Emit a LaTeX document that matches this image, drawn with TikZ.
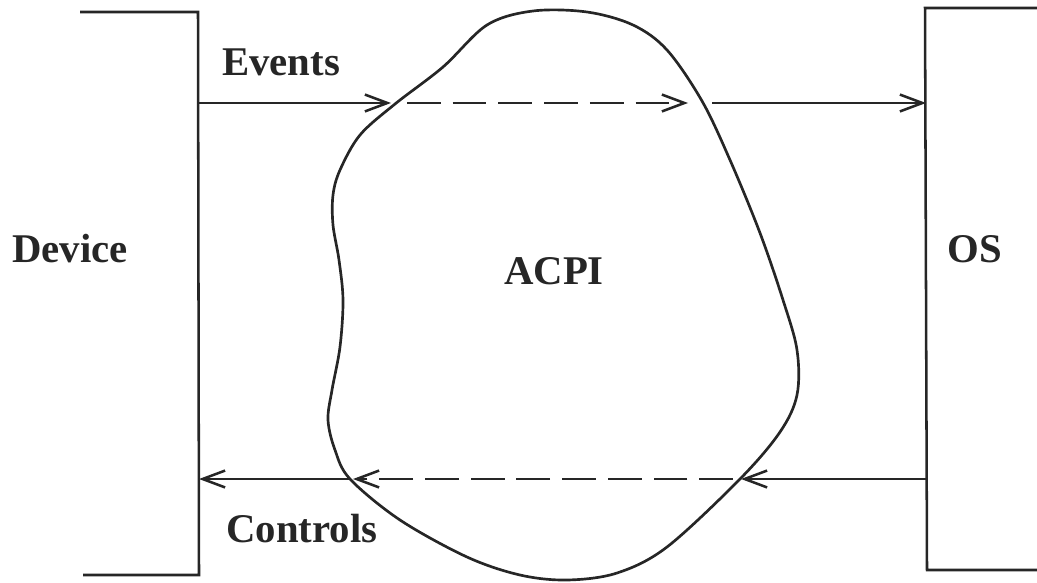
\documentclass[tikz,border=0pt]{standalone}
\usepackage{fontspec}
\setmainfont{Liberation Serif}
\usetikzlibrary{arrows.meta}
\begin{document}
\begin{tikzpicture}[x=0.025cm, y=-0.025cm,
  lbl/.style={font=\fontsize{29}{32}\selectfont\bfseries, inner sep=0pt, text=black!85},
  wire/.style={line width=1.8pt, draw=black!85},
  flow/.style={wire, -{Straight Barb[length=16pt, width=12pt, line width=1.8pt]}},
  hidden/.style={flow, dash pattern=on 24pt off 8.5pt},
  blob/.style={line width=1.9pt, draw=black!85}
]
\useasboundingbox (0,0) rectangle (1037,583);

% the two end points: device bracket and OS box
\draw[wire] (80,12) -- (198,12) -- (199,575) -- (83,575);
\draw[wire] (1037,8) -- (925,8) -- (927,570) -- (1037,570);

% the ACPI region
\draw[blob] plot[smooth cycle, tension=0.55] coordinates {
  (533,11) (587,12) (633,25) (667,50) (702,101) (730,160) (760,233)
  (783,300) (797,350) (797,395) (780,432) (740,479) (667,547) (617,573)
  (567,580) (520,575) (467,557) (400,520) (350,479) (335,450) (328,420)
  (332,390) (340,347) (343,300) (339,260) (333,225) (333,195) (340,170)
  (360,135) (395,104) (443,67) (487,25)};

% labels
\node[lbl] (device) at (70,249) {Device};
\node[lbl] (os) at (975,249) {OS};
\node[lbl] (acpi) at (554,271) {ACPI};
\node[lbl] (events) at (281,62) {Events};
\node[lbl] (controls) at (302,529) {Controls};

% points where the signal lines meet the boundaries
\coordinate (ev-dev) at (198,103);
\coordinate (ev-in) at (391,103);
\coordinate (ev-din) at (407,103);
\coordinate (ev-dout) at (688,103);
\coordinate (ev-out) at (712,103);
\coordinate (ev-os) at (926,103);

\coordinate (ct-os) at (926,479);
\coordinate (ct-in) at (741,479);
\coordinate (ct-din) at (733,479);
\coordinate (ct-dout) at (353,479);
\coordinate (ct-out) at (350,479);
\coordinate (ct-dev) at (199,479);

% events: device -> ACPI -> OS
\draw[flow] (ev-dev) -- (ev-in);
\draw[hidden] (ev-din) -- (ev-dout);
\draw[flow] (ev-out) -- (ev-os);

% controls: OS -> ACPI -> device
\draw[flow] (ct-os) -- (ct-in);
\draw[hidden] (ct-din) -- (ct-dout);
\draw[flow] (ct-out) -- (ct-dev);
\end{tikzpicture}
\end{document}
